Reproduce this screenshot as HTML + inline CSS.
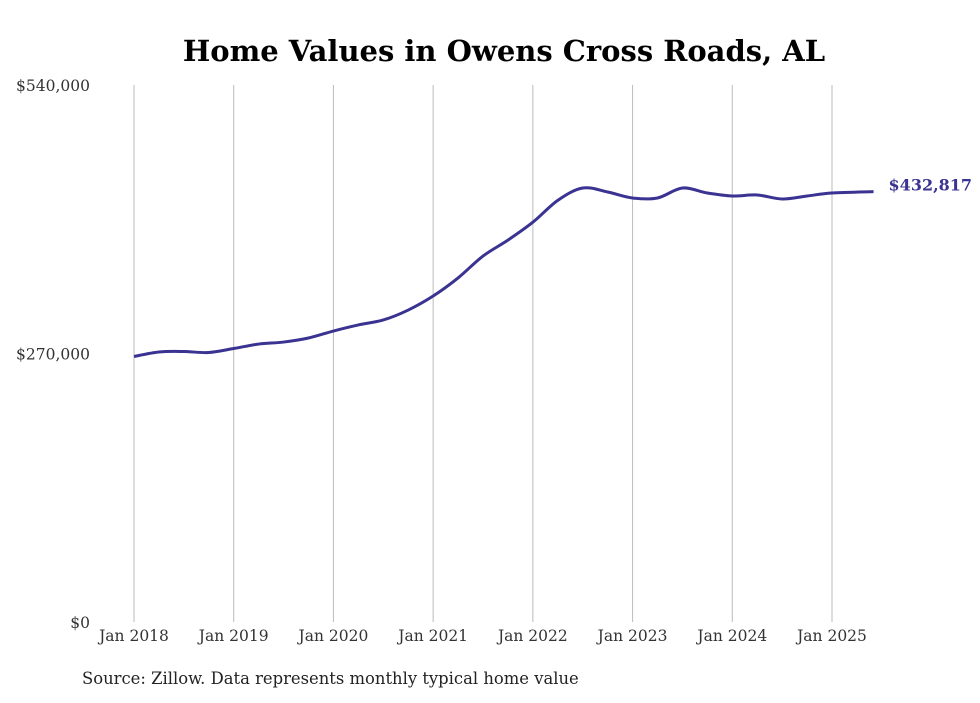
<!DOCTYPE html>
<html><head><meta charset="utf-8"><style>
body{margin:0;background:#fff;width:980px;height:699px;overflow:hidden;font-family:"DejaVu Serif","Liberation Serif",serif;}
</style></head><body>
<svg width="980" height="699" xmlns="http://www.w3.org/2000/svg">
<text x="504" y="61" text-anchor="middle" font-size="29" font-weight="bold" fill="#000">Home Values in Owens Cross Roads, AL</text>
<g id="grid"></g><g id="yt"></g><g id="xt"></g>
<path id="line" fill="none" stroke="#3a3391" stroke-width="3"/>
<text id="endlbl" font-size="16" font-weight="bold" fill="#3a3391"></text>
<text x="82" y="684" font-size="16.4" fill="#222">Source: Zillow. Data represents monthly typical home value</text>
</svg>
<script>
const months=[0,3,6,9,12,15,18,21,24,27,30,33,36,39,42,45,48,51,54,57,60,63,66,69,72,75,78,81,84,89];
const values=[267000,271500,272000,271000,275000,279500,281500,285600,292600,298700,303700,313700,327800,346000,368000,384000,402000,424000,436400,432400,426400,426400,436400,431400,428400,429400,425400,428400,431400,432817];
const yTicks=[0,270000,540000];
const yTickLabels=["$0","$270,000","$540,000"];
const xYears=[2018,2019,2020,2021,2022,2023,2024,2025];
const NS="http://www.w3.org/2000/svg";
const X=m=>134+m*(698/84);
const Y=v=>622-v*(537/540000);
function mk(tag,attrs,parent,txt){const e=document.createElementNS(NS,tag);for(const k in attrs)e.setAttribute(k,attrs[k]);if(txt!==undefined)e.textContent=txt;parent.appendChild(e);return e;}
const grid=document.getElementById('grid'),yt=document.getElementById('yt'),xt=document.getElementById('xt');
xYears.forEach((yr,i)=>{const x=X(i*12);
const l=mk('line',{x1:x,x2:x,y1:85,y2:622,stroke:'#bbb','stroke-width':1},grid);


const t=mk('text',{x:x,y:641,'text-anchor':'middle','font-size':15.5,fill:'#333'},xt,'Jan '+yr);

});
yTicks.forEach((v,i)=>{const t=mk('text',{x:90,y:Y(v)+6,'text-anchor':'end','font-size':15.5,fill:'#333'},yt,yTickLabels[i]);

});
const pts=months.map((m,i)=>[X(m),Y(values[i])]);
let d='M'+pts[0][0]+','+pts[0][1];
for(let i=0;i<pts.length-1;i++){const p0=pts[i-1]||pts[i],p1=pts[i],p2=pts[i+1],p3=pts[i+2]||p2;
d+=' C'+(p1[0]+(p2[0]-p0[0])/6)+','+(p1[1]+(p2[1]-p0[1])/6)+' '+(p2[0]-(p3[0]-p1[0])/6)+','+(p2[1]-(p3[1]-p1[1])/6)+' '+p2[0]+','+p2[1];}
document.getElementById('line').setAttribute('d',d);
const last=pts[pts.length-1],el=document.getElementById('endlbl');
el.setAttribute('x',last[0]+15);el.setAttribute('y',last[1]-1);
el.textContent='$'+values[values.length-1].toLocaleString('en-US');
</script>
</body></html>
